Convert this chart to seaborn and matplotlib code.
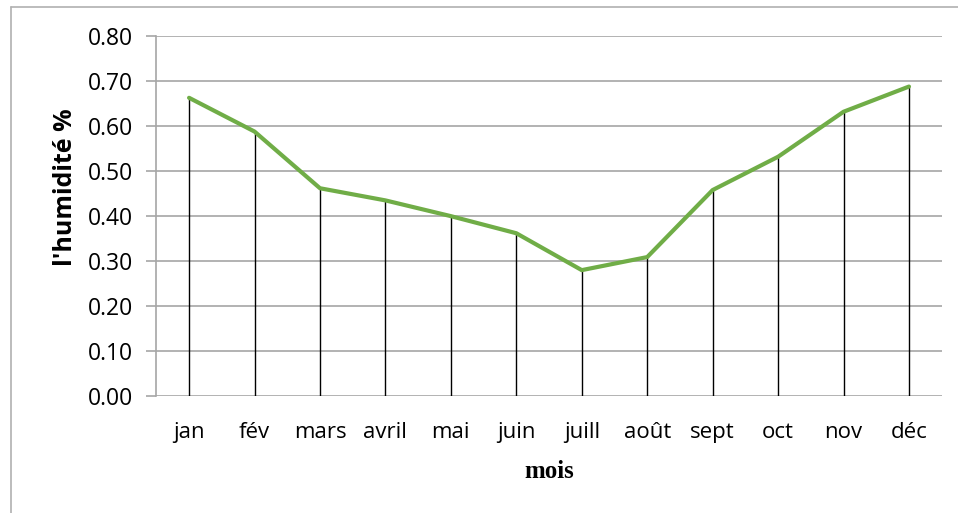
import numpy as np
import pandas as pd
import matplotlib.pyplot as plt
import seaborn as sns
from matplotlib.lines import Line2D

# Data
mois = ["jan", "fév", "mars", "avril", "mai", "juin", "juill", "août", "sept", "oct", "nov", "déc"]
humidite = [0.662, 0.587, 0.461, 0.434, 0.399, 0.361, 0.279, 0.308, 0.457, 0.531, 0.631, 0.687]
y_ticks = [0.0, 0.1, 0.2, 0.3, 0.4, 0.5, 0.6, 0.7, 0.8]

df = pd.DataFrame({"pos": np.arange(len(mois)), "mois": mois, "humidite": humidite})

sns.set_style("white")
plt.rcParams['font.family'] = ['Open Sans', 'DejaVu Sans']

fig = plt.figure(figsize=(9.58, 5.13), dpi=100)
ax = fig.add_axes([0.1632, 0.2287, 0.8198, 0.7017])

# outer chart border (only top and left edges visible)
top = 1 - 6.5 / 513
left = 10.5 / 958
fig.lines.append(Line2D([left, 1.0], [top, top], transform=fig.transFigure,
                        color="#b0b0b0", linewidth=1.2))
fig.lines.append(Line2D([left, left], [0.0, top], transform=fig.transFigure,
                        color="#b0b0b0", linewidth=1.2))

# gridlines
for t in y_ticks:
    ax.axhline(t, color="#a6a6a6", linewidth=1.2, zorder=1)

# drop lines
ax.vlines(df["pos"], 0, df["humidite"], color="black", linewidth=1, zorder=2)

sns.lineplot(data=df, x="pos", y="humidite", color="#70ad47", linewidth=3, sort=False, ax=ax, zorder=3)

ax.set_xlim(-0.5, len(mois) - 0.5)
ax.set_ylim(0, 0.8)
ax.set_yticks(y_ticks)
ax.set_yticklabels([f"{t:.2f}" for t in y_ticks], fontsize=16.5, color="black")
ax.set_xticks(df["pos"])
ax.set_xticklabels(mois, fontsize=16, color="black")

for s in ["top", "right", "bottom"]:
    ax.spines[s].set_visible(False)
ax.spines["left"].set_color("#a6a6a6")
ax.spines["left"].set_linewidth(1.2)
ax.tick_params(axis="y", length=7, color="#a6a6a6", width=1.2, pad=10, left=True)
ax.tick_params(axis="x", length=0, pad=19)

ax.set_ylabel("l'humidité %", fontsize=18, fontweight="bold", color="black", labelpad=7)
ax.yaxis.label.set_y(0.58)
ax.set_xlabel("mois", fontsize=18, fontweight="bold", family="Liberation Serif",
              color="black", labelpad=12)

fig.savefig("out.png", dpi=100)
